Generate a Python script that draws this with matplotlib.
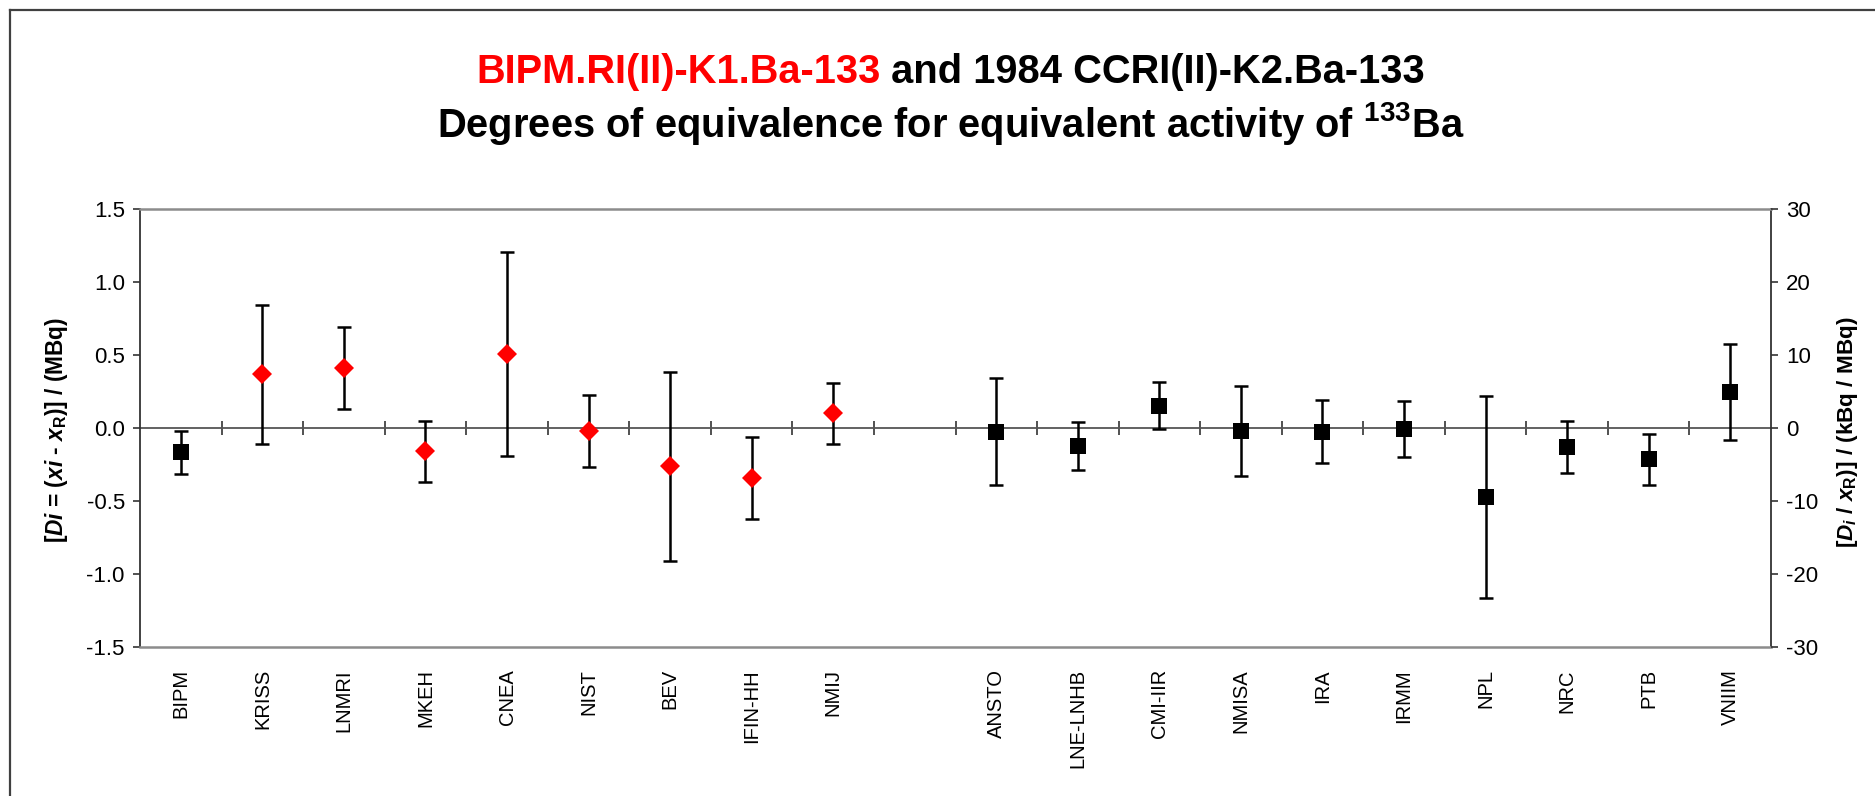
import matplotlib
matplotlib.use("Agg")
import matplotlib.pyplot as plt
import numpy as np

plt.rcParams['font.family'] = ['Liberation Sans', 'DejaVu Sans']
plt.rcParams['axes.unicode_minus'] = False
plt.rcParams['mathtext.fontset'] = 'custom'
plt.rcParams['mathtext.rm'] = 'Liberation Sans:bold'
plt.rcParams['mathtext.it'] = 'Liberation Sans:bold:italic'
plt.rcParams['mathtext.bf'] = 'Liberation Sans:bold'

# laboratories in the order of the chart, '' is the empty slot
labs = ['BIPM', 'KRISS', 'LNMRI', 'MKEH', 'CNEA', 'NIST', 'BEV', 'IFIN-HH', 'NMIJ', '',
        'ANSTO', 'LNE-LNHB', 'CMI-IIR', 'NMISA', 'IRA', 'IRMM', 'NPL', 'NRC', 'PTB', 'VNIIM']

# BIPM.RI(II)-K1.Ba-133 (red diamonds)
k1_labs = ['KRISS', 'LNMRI', 'MKEH', 'CNEA', 'NIST', 'BEV', 'IFIN-HH', 'NMIJ']
k1_D = [0.368, 0.409, -0.160, 0.507, -0.021, -0.263, -0.342, 0.100]
k1_U = [0.478, 0.280, 0.208, 0.699, 0.245, 0.646, 0.280, 0.211]

# BIPM and 1984 CCRI(II)-K2.Ba-133 (black squares)
k2_labs = ['BIPM', 'ANSTO', 'LNE-LNHB', 'CMI-IIR', 'NMISA', 'IRA', 'IRMM', 'NPL', 'NRC', 'PTB', 'VNIIM']
k2_D = [-0.165, -0.026, -0.123, 0.152, -0.022, -0.025, -0.009, -0.473, -0.130, -0.215, 0.248]
k2_U = [0.147, 0.367, 0.162, 0.161, 0.310, 0.218, 0.191, 0.692, 0.178, 0.172, 0.327]

yticks_left = [-1.5, -1.0, -0.5, 0.0, 0.5, 1.0, 1.5]
yticks_right = [-30, -20, -10, 0, 10, 20, 30]

fig = plt.figure(figsize=(18.75, 7.96), dpi=100)
ax = fig.add_axes([0.0747, 0.1872, 0.8698, 0.5502])

pos = {name: i + 0.5 for i, name in enumerate(labs)}
x1 = [pos[n] for n in k1_labs]
x2 = [pos[n] for n in k2_labs]

ax.errorbar(x1, k1_D, yerr=k1_U, fmt='none', ecolor='black', elinewidth=1.8,
            capsize=4.7, capthick=1.8, zorder=3)
ax.errorbar(x2, k2_D, yerr=k2_U, fmt='none', ecolor='black', elinewidth=1.8,
            capsize=4.7, capthick=1.8, zorder=3)
ax.plot(x1, k1_D, 'D', color='red', ms=10.5, mew=0, zorder=4)
ax.plot(x2, k2_D, 's', color='black', ms=11.3, mew=0, zorder=4)

ax.set_xlim(0, len(labs))
ax.set_ylim(-1.5, 1.5)
ax.set_yticks(yticks_left)
ax.set_yticklabels(['%.1f' % v for v in yticks_left])
ax.set_xticks([pos[n] for n in labs])
ax.set_xticklabels(labs, rotation=90, va='top', ha='center')
ax.tick_params(axis='x', length=0, pad=16, labelsize=14.5)
ax.tick_params(axis='y', direction='out', length=5, width=1.2, pad=6, labelsize=16, color='#333333')

for s in ['top', 'bottom']:
    ax.spines[s].set_color('#8c8c8c')
    ax.spines[s].set_linewidth(1.8)
for s in ['left', 'right']:
    ax.spines[s].set_color('#333333')
    ax.spines[s].set_linewidth(1.3)

# category axis crossing at zero
zx = ax.secondary_xaxis(0.5)
zx.set_xticks(np.arange(1, len(labs)))
zx.set_xticklabels([])
zx.tick_params(direction='inout', length=10, width=1.2, color='#333333')
for s in zx.spines.values():
    s.set_color('#555555')
    s.set_linewidth(1.3)

ax2 = ax.twinx()
ax2.set_ylim(-30, 30)
ax2.set_yticks(yticks_right)
ax2.set_yticklabels([str(v) for v in yticks_right])
ax2.tick_params(axis='y', direction='out', length=5, width=1.2, pad=6, labelsize=16, color='#333333')
for s in ax2.spines.values():
    s.set_visible(False)

fig.text(0.0304, 0.46, r'[$Di$ = ($xi$ - $x_{\mathrm{R}}$)] / (MBq)', rotation=90,
         ha='center', va='center', fontsize=16.3, fontweight='bold')
fig.text(0.9856, 0.457, r'[$D_i$ / $x_{\mathrm{R}}$)] / (kBq / MBq)', rotation=90,
         ha='center', va='center', fontsize=16.2, fontweight='bold')

# two coloured title line
t_red = 'BIPM.RI(II)-K1.Ba-133'
t_blk = ' and 1984 CCRI(II)-K2.Ba-133'
r = fig.canvas.get_renderer()
a = fig.text(0, 0.8957, t_red, color='red', fontsize=28.7, fontweight='bold', va='baseline')
b = fig.text(0, 0.8957, t_blk, color='black', fontsize=28.7, fontweight='bold', va='baseline')
wa = a.get_window_extent(r).width / fig.bbox.width
wb = b.get_window_extent(r).width / fig.bbox.width
x0 = 0.507 - (wa + wb) / 2
a.set_x(x0)
b.set_x(x0 + wa)
fig.text(0.507, 0.828, r'Degrees of equivalence for equivalent activity of $^{\mathrm{133}}$Ba',
         ha='center', va='baseline', fontsize=28.7, fontweight='bold')

# frame around the chart
fig.add_artist(plt.Line2D([10 / 1875, 10 / 1875], [0, 1 - 10 / 796], color='#404040', lw=1.6))
fig.add_artist(plt.Line2D([10 / 1875, 1], [1 - 10 / 796, 1 - 10 / 796], color='#404040', lw=1.6))

fig.savefig('out.png', dpi=100)
